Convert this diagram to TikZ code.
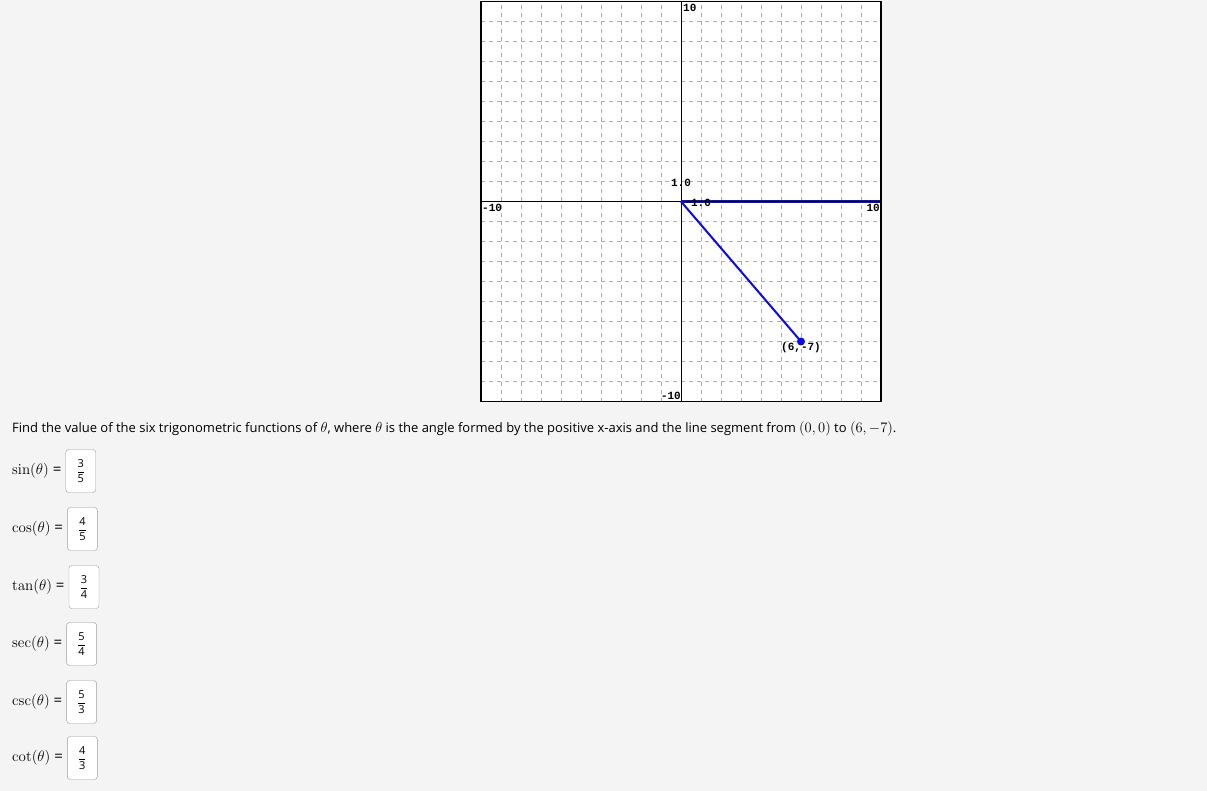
\documentclass[tikz,border=0pt]{standalone}
\usepackage{fix-cm}
\usepackage{amsmath}
\usepackage[no-math]{fontspec}
\setmainfont{Open Sans}
\newfontfamily\plotfont{Liberation Mono}
\usepackage{tikz}
\usetikzlibrary{positioning}
\definecolor{pagebg}{HTML}{F4F4F4}
\definecolor{gridgray}{HTML}{ADADAD}
\definecolor{segblue}{HTML}{0A0AF0}
\definecolor{boxgray}{HTML}{9C9C9C}
\newcommand{\qmath}[1]{{\fontsize{14.5}{16}\selectfont$#1$}}
\tikzset{gridline/.style={gridgray,dash pattern=on 4pt off 4pt,line width=0.8pt}}
\tikzset{plotlabel/.style={inner sep=0pt,font=\plotfont\bfseries\fontsize{11}{11}\selectfont}}
\tikzset{fnlabel/.style={anchor=west,inner sep=0pt,font=\fontsize{15}{18}\selectfont}}
\tikzset{ansbox/.style={draw=boxgray,fill=white,rounded corners=3pt,minimum width=30pt,minimum height=43pt,inner sep=0pt,font=\fontsize{11}{13}\selectfont}}

\begin{document}
\begin{tikzpicture}[x=1pt,y=-1pt]
    % page
    \fill [pagebg] (0,0) rectangle (1207,791);
    \useasboundingbox (0,0) rectangle (1207,791);

    % the plot, in grid units
    \begin{scope}[shift={(681,201.5)},x=20pt,y=20pt]
    \fill [white] (-10,-10) rectangle (10,10);
    % grid
    \foreach \k in {-9,...,9} {
        \draw [gridline] (\k,-10) -- (\k,10);
        \draw [gridline] (-10,\k) -- (10,\k);
    }
    % initial side
    \draw [segblue, line width=3pt] (0,0) -- (10,0);
    % axes and frame
    \draw [line width=1pt] (-10,0) -- (10,0);
    \draw [line width=1pt] (0,-10) -- (0,10);
    \draw [line width=1.2pt] (-10,-10) rectangle (10,10);

    % terminal side
    \coordinate (O) at (0,0);
    \node [circle,fill=segblue,minimum size=8pt,inner sep=0pt] (P) at (6,-7) {};
    \draw [segblue, line width=2pt] (O) -- (P.center);

    % axis labels
    \node [plotlabel,anchor=north west] (ytop) at (0.1,9.9) {10};
    \node [plotlabel,anchor=south east] (ybot) at (0,-9.9) {-10};
    \node [plotlabel,anchor=north west] (xlft) at (-9.95,-0.1) {-10};
    \node [plotlabel,anchor=north east] (xrgt) at (9.95,-0.1) {10};
    \node [plotlabel] (yone) at (0,0.93) {1.0};
    \node [plotlabel] (xone) at (1,-0.05) {1.0};
    \node [plotlabel] (Plbl) at (6,-7.3) {(6,-7)};
    \end{scope}

    % question
    \node [anchor=base west,inner sep=0pt,font=\fontsize{13}{16}\selectfont] (question) at (12,432)
        {Find the value of the six trigonometric functions of \qmath{\theta}, where \qmath{\theta} is the angle formed by the positive x-axis and the line segment from \qmath{(0,0)} to \qmath{(6,-7)}.};

    % answers
    \foreach \fn/\num/\den/\yy in {sin/3/5/471,cos/4/5/529,tan/3/4/587,sec/5/4/644,csc/5/3/702,cot/4/3/758} {
        \node [fnlabel] (lbl-\fn) at (12,\yy) {$\operatorname{\fn}(\theta)$ =};
        \node [ansbox,right=4pt of lbl-\fn] (box-\fn) {$\dfrac{\text{\num}}{\text{\den}}$};
    }
\end{tikzpicture}
\end{document}
